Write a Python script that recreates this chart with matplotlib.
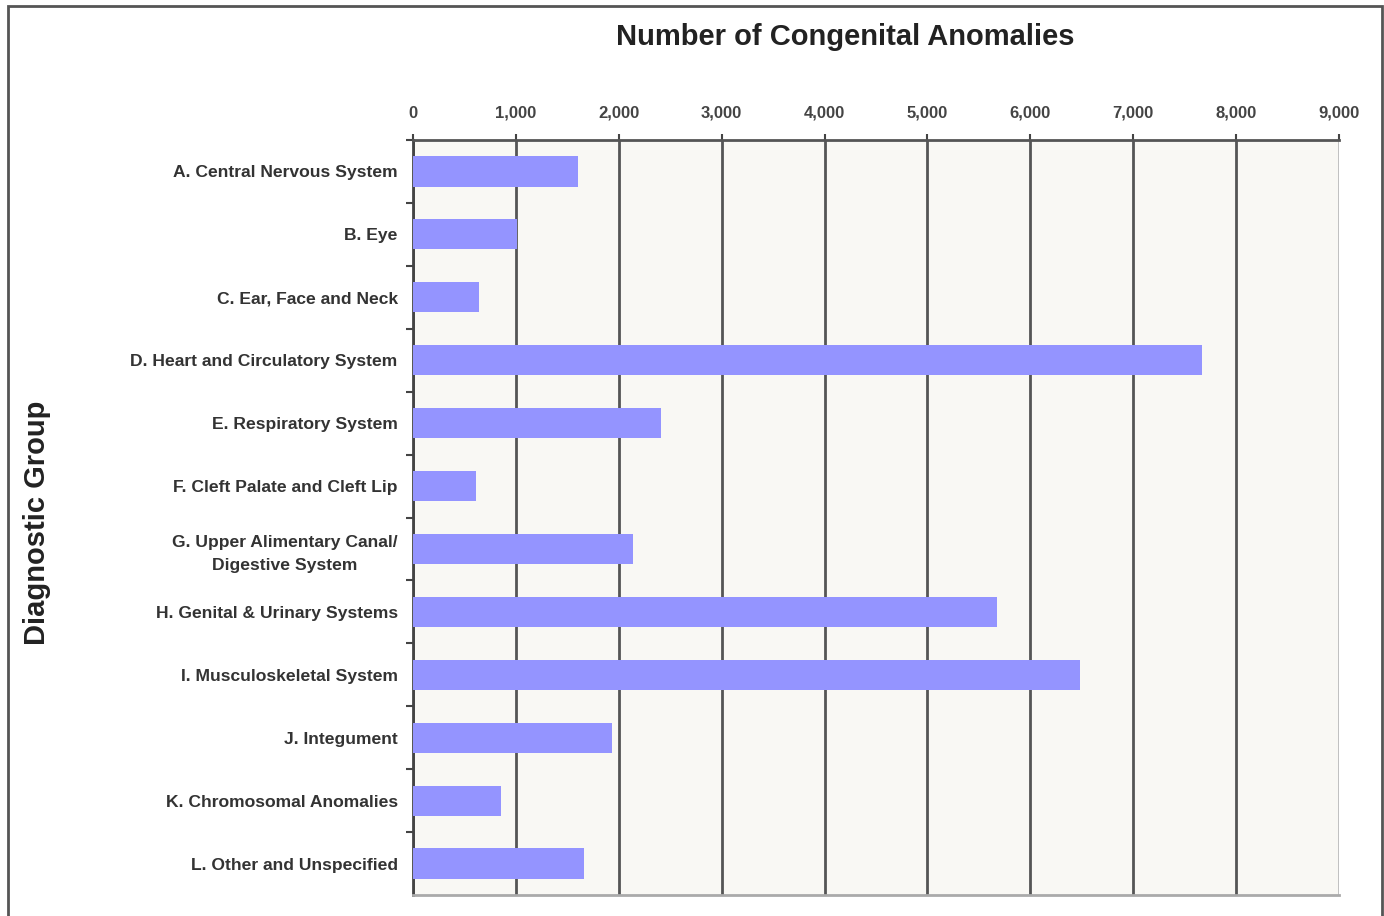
"""Horizontal bar chart: number of congenital anomalies by diagnostic group."""
import matplotlib.pyplot as plt
from matplotlib.patches import Rectangle
from matplotlib.ticker import FuncFormatter, FixedLocator

groups = [
    "A. Central Nervous System",
    "B. Eye",
    "C. Ear, Face and Neck",
    "D. Heart and Circulatory System",
    "E. Respiratory System",
    "F. Cleft Palate and Cleft Lip",
    "G. Upper Alimentary Canal/\nDigestive System",
    "H. Genital & Urinary Systems",
    "I. Musculoskeletal System",
    "J. Integument",
    "K. Chromosomal Anomalies",
    "L. Other and Unspecified",
]
counts = [1600, 1010, 640, 7670, 2410, 610, 2140, 5680, 6480, 1930, 855, 1660]
x_ticks = list(range(0, 9001, 1000))

plt.rcParams['font.family'] = ['Liberation Sans', 'DejaVu Sans']

fig = plt.figure(figsize=(13.84, 9.16), dpi=100)
ax = fig.add_axes([413 / 1384, 1 - 895 / 916, (1339 - 413) / 1384, (895 - 140) / 916])
ax.set_facecolor('#f9f8f4')

# outer frame of the picture
fig.patches.append(Rectangle((8 / 1384, -0.05), (1382 - 8) / 1384, 1.05 - 6 / 916,
                             transform=fig.transFigure, fill=False,
                             edgecolor='#555555', linewidth=2))

pos = list(range(len(groups)))
ax.barh(pos, counts, height=0.48, color='#9494ff', zorder=3)

ax.set_xlim(0, 9000)
ax.set_ylim(len(groups) - 0.5, -0.5)
ax.xaxis.tick_top()
ax.set_xticks(x_ticks)
ax.xaxis.set_major_formatter(FuncFormatter(lambda v, p: f"{int(v):,}"))
ax.tick_params(axis='x', length=4, width=1.5, color='#444444', pad=10,
               labelsize=12, labelcolor='#444444')
for lab in ax.get_xticklabels():
    lab.set_fontweight('bold')

ax.set_yticks(pos)
ax.set_yticklabels(groups, fontsize=12.6, fontweight='bold', color='#333333',
                   ha='right', multialignment='center', linespacing=1.6)
ax.tick_params(axis='y', which='major', length=0, pad=11)
ax.yaxis.set_minor_locator(FixedLocator([p + 0.5 for p in pos[:-1]] + [-0.5]))
ax.tick_params(axis='y', which='minor', length=5, width=1.5, color='#444444')

ax.grid(axis='x', color='#555555', linewidth=2, zorder=1)
for line in ax.get_xgridlines()[-1:]:
    line.set_color('#bbbbbb')

ax.spines['right'].set_visible(False)
ax.spines['top'].set_color('#555555')
ax.spines['top'].set_linewidth(2)
ax.spines['left'].set_color('#444444')
ax.spines['left'].set_linewidth(2)
ax.spines['bottom'].set_color('#aaaaaa')
ax.spines['bottom'].set_linewidth(2)

fig.text(845 / 1384, 1 - 37 / 916, "Number of Congenital Anomalies",
         ha='center', va='center', fontsize=21, fontweight='bold', color='#222222')
fig.text(37 / 1384, 1 - 523 / 916, "Diagnostic Group", rotation=90,
         ha='center', va='center', fontsize=21, fontweight='bold', color='#222222')

fig.savefig('out.png', dpi=100)
